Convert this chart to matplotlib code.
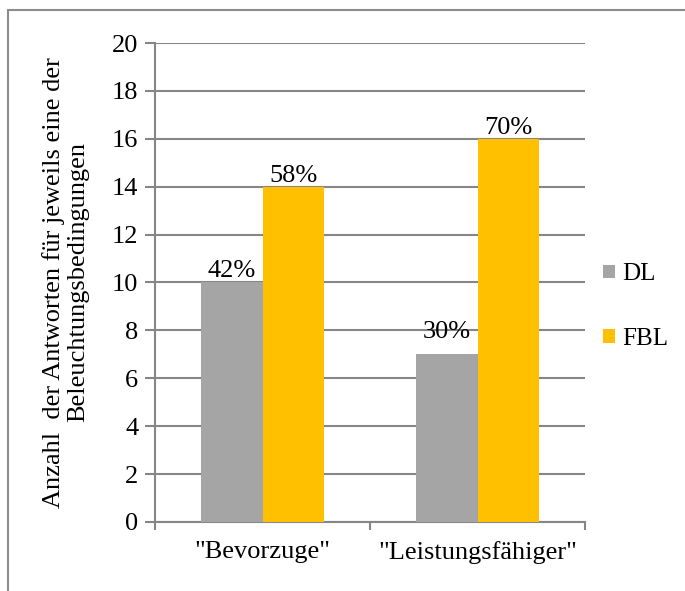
import matplotlib
matplotlib.use('Agg')
import matplotlib.pyplot as plt
from matplotlib.patches import Rectangle
import numpy as np

categories = ['"Bevorzuge"', '"Leistungsfähiger"']
dl = [10, 7]
fbl = [14, 16]
dl_labels = ['42%', '30%']
fbl_labels = ['58%', '70%']

plt.rcParams['font.family'] = ['Liberation Serif', 'DejaVu Serif']
grey = '#868686'
fs = 19

fig = plt.figure(figsize=(6.85, 5.91), dpi=100)
# outer chart border (cut off at right/bottom like the screenshot)
fig.patches.append(Rectangle((0.0117, -0.05), 1.2, 1.033, transform=fig.transFigure,
                             fill=False, edgecolor='#8c8c8c', linewidth=1.5))

ax = fig.add_axes([0.2263, 0.1168, 0.628, 0.8104])
x = np.arange(len(categories))
w = 0.285
b1 = ax.bar(x - w/2, dl, w, color='#A5A5A5', label='DL', zorder=3)
b2 = ax.bar(x + w/2, fbl, w, color='#FFC000', label='FBL', zorder=3)

for rect, lab, off in zip(b1, dl_labels, [0, 8]):
    ax.annotate(lab, (rect.get_x() + rect.get_width()/2, rect.get_height()),
                xytext=(0, off), textcoords='offset points', ha='center', va='bottom', fontsize=fs)
for rect, lab in zip(b2, fbl_labels):
    ax.annotate(lab, (rect.get_x() + rect.get_width()/2, rect.get_height()),
                xytext=(0, 0), textcoords='offset points', ha='center', va='bottom', fontsize=fs)

ax.set_ylim(0, 20)
ax.set_yticks(range(0, 21, 2))
ax.set_xlim(-0.5, 1.5)
ax.set_xticks(x)
ax.set_xticklabels(categories, fontsize=fs)
ax.set_xticks([-0.5, 0.5, 1.5], minor=True)
ax.tick_params(axis='x', which='major', length=0, pad=14)
ax.tick_params(axis='x', which='minor', length=6, width=1.5, color=grey)
ax.tick_params(axis='y', length=7, width=1.5, color=grey, labelsize=fs, pad=5)
ax.grid(axis='y', color=grey, linewidth=1.5, zorder=0)
for s in ['top', 'right']:
    ax.spines[s].set_visible(False)
for s in ['left', 'bottom']:
    ax.spines[s].set_color(grey)
    ax.spines[s].set_linewidth(1.5)

ax.set_ylabel('Anzahl  der Antworten für jeweils eine der\nBeleuchtungsbedingungen', fontsize=fs,
              linespacing=1.15, labelpad=16)

ax.legend(loc='center left', bbox_to_anchor=(0.99, 0.45), frameon=False, fontsize=18,
          handlelength=0.45, handleheight=0.45, handletextpad=0.3, labelspacing=1.7)

fig.savefig('out.png', dpi=100)
